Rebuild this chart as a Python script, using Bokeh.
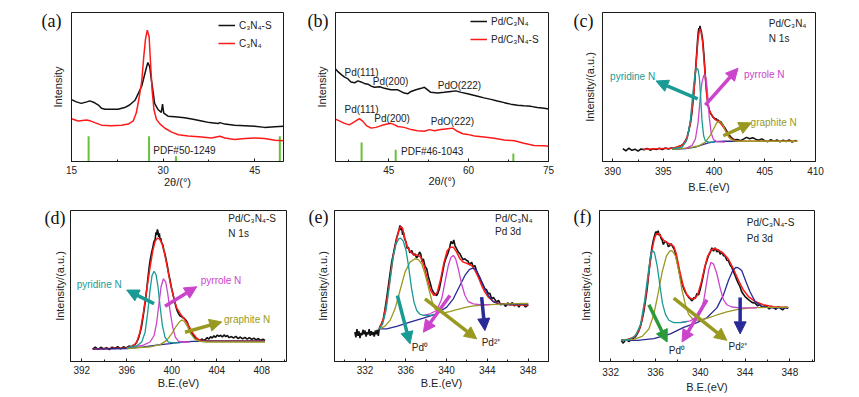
from bokeh.plotting import figure
from bokeh.layouts import column, row
from bokeh.models import (FixedTicker, Legend, LegendItem, LinearAxis, Arrow, NormalHead, Range1d)
from bokeh.core.properties import value
from bokeh.embed import file_html
from bokeh.resources import INLINE

# ---------------- data: panel (a) XRD ----------------
a_x_c3n4s = [15.0, 15.8, 16.6, 17.5, 18.0, 18.8, 19.4, 19.9, 20.5, 21.5, 22.6, 23.7, 24.5, 25.4, 25.9, 26.5, 26.9, 27.3, 27.5, 27.8,
             28.1, 28.4, 28.6, 29.2, 29.7, 29.9, 30.1, 30.8, 31.9, 33.5, 34.9, 36.3, 37.6, 39.0, 39.3, 40.1, 41.7, 43.4, 45.0, 46.6, 48.3, 49.7]
a_y_c3n4s = [41.5, 40.0, 39.0, 40.0, 40.7, 39.4, 37.9, 35.8, 35.1, 35.1, 35.1, 36.2, 37.9, 41.1, 45.4, 50.7, 57.2, 63.6, 66.4, 63.6,
             54.0, 45.4, 39.0, 34.7, 33.0, 38.5, 32.5, 30.4, 30.0, 29.3, 28.3, 27.2, 26.1, 25.5, 26.1, 25.1, 24.4, 24.0, 23.6, 22.9, 23.3, 23.6]
a_x_c3n4 = [15.0, 16.1, 17.5, 18.0, 18.8, 19.9, 21.5, 23.2, 24.3, 25.1, 25.6, 26.0, 26.5, 26.8, 27.1, 27.4, 27.7, 27.9, 28.2, 28.5,
            28.9, 29.5, 30.3, 31.4, 32.5, 34.1, 36.3, 37.9, 39.3, 40.1, 41.7, 43.4, 45.0, 46.6, 48.3, 49.7]
a_y_c3n4 = [28.7, 27.2, 27.8, 27.4, 26.1, 24.4, 24.0, 24.4, 25.1, 27.2, 32.5, 41.1, 54.0, 69.0, 81.8, 88.2, 83.9, 69.0, 47.5, 34.7,
            28.3, 25.1, 22.3, 19.7, 18.0, 17.1, 16.5, 15.8, 16.9, 15.8, 14.8, 15.4, 15.8, 15.4, 14.3, 13.9]
a_pdf_x = [17.8, 27.7, 32.1, 49.1]
a_pdf_h = [16.9, 16.9, 3.6, 16.9]
a_ticks = [15, 30, 45]

# ---------------- data: panel (b) XRD ----------------
b_x_pd = [35.0, 35.4, 36.1, 36.7, 37.3, 37.9, 38.6, 39.2, 39.8, 40.4, 41.1, 41.7, 42.3, 43.3, 44.2, 45.4, 46.7, 47.9, 48.6, 49.2,
          50.1, 51.1, 51.7, 52.3, 52.9, 54.2, 55.4, 56.7, 57.6, 58.6, 59.8, 61.7, 62.9, 64.2, 65.4, 66.7, 67.9, 69.2, 70.4, 71.7,
          72.9, 74.2, 75.0]
b_y_pd = [62.0, 60.5, 58.3, 56.6, 55.6, 53.4, 52.8, 54.1, 53.4, 52.4, 51.9, 50.6, 49.8, 50.2, 49.1, 48.1, 48.1, 45.9, 45.5, 47.0,
          48.1, 49.1, 49.8, 48.1, 46.4, 45.9, 46.4, 47.0, 47.4, 46.4, 45.5, 43.8, 42.7, 41.7, 40.6, 39.5, 38.5, 37.8, 37.4, 37.0,
          36.3, 35.7, 35.3]
b_x_pds = [35.0, 35.8, 36.7, 37.6, 38.6, 39.5, 40.1, 40.8, 41.7, 42.6, 43.6, 44.5, 45.4, 46.1, 46.7, 47.9, 49.2, 50.4, 51.7, 52.6,
           53.6, 54.8, 56.1, 57.0, 57.9, 58.9, 59.8, 61.1, 62.9, 64.8, 66.7, 68.6, 70.4, 72.3, 74.2, 75.0]
b_y_pds = [28.4, 27.1, 25.6, 24.6, 26.7, 28.8, 27.1, 24.1, 22.4, 22.9, 24.1, 25.0, 25.6, 24.6, 23.5, 22.9, 21.4, 20.7, 20.3, 21.4,
           20.7, 21.4, 22.0, 22.4, 20.3, 18.6, 18.2, 17.1, 16.5, 15.6, 14.5, 13.9, 12.2, 10.7, 10.5, 10.3]
b_pdf_x = [39.9, 46.3, 68.4]
b_pdf_h = [12.8, 7.9, 5.3]
b_ticks = [45, 60, 75]
b_peak_labels = ["Pd(111)", "Pd(200)", "PdO(222)", "Pd(111)", "Pd(200)", "PdO(222)"]
b_peak_x = [36.7, 42.0, 54.2, 36.7, 42.3, 52.9]
b_peak_y = [59.8, 53.8, 51.3, 34.8, 28.8, 26.7]

# ---------------- data: panel (c) N 1s, Pd/C3N4 ----------------
c_x_data = [391.0, 391.3, 391.6, 391.9, 392.2, 392.5, 392.8, 393.1, 393.4, 393.7, 394.0, 394.3, 394.6, 394.9, 395.2, 395.5, 395.8, 396.1, 396.4, 396.7,
            397.0, 397.2, 397.35, 397.5, 397.67, 397.8, 397.9, 398.0, 398.09, 398.17, 398.25, 398.32, 398.38, 398.44, 398.5, 398.56, 398.61, 398.67, 398.74, 398.8,
            398.87, 398.93, 399.0, 399.07, 399.13, 399.21, 399.29, 399.37, 399.45, 399.53, 399.61, 399.7, 399.77, 399.9, 400.0, 400.1, 400.2, 400.3, 400.42, 400.55,
            400.65, 400.74, 400.85, 400.95, 401.07, 401.2, 401.3, 401.39, 401.5, 401.6, 401.71, 401.85, 402.04, 402.3, 402.6, 402.9, 403.2, 403.5, 403.8, 404.1,
            404.4, 404.7, 405.0, 405.3, 405.6, 405.9, 406.2, 406.5, 406.8, 407.1, 407.4, 407.7, 408.0, 408.2]
c_y_data = [8.6, 7.2, 8.9, 7.5, 8.3, 7.0, 8.4, 7.9, 8.8, 7.6, 8.5, 8.0, 8.9, 8.1, 9.0, 8.4, 9.1, 8.8, 9.6, 10.5,
            11.8, 13.5, 16.5, 20.5, 26.0, 32.0, 39.0, 46.5, 54.0, 61.0, 69.0, 76.0, 82.0, 86.5, 89.5, 88.0, 91.0, 89.0, 87.5, 85.0,
            82.0, 77.5, 71.5, 64.5, 58.0, 51.5, 45.5, 40.5, 37.0, 34.5, 32.5, 31.8, 31.2, 29.6, 29.2, 28.4, 28.8, 27.4, 27.8, 26.5,
            27.0, 25.8, 24.8, 23.6, 22.5, 21.0, 19.6, 18.8, 17.6, 16.9, 16.0, 15.2, 14.6, 14.8, 13.9, 15.0, 16.2, 15.3, 16.0, 15.0,
            14.2, 15.2, 14.0, 13.3, 14.6, 13.5, 14.4, 13.2, 14.3, 13.4, 14.5, 13.1, 14.0, 13.6]
c_x_fit = [392.98, 395.89, 396.86, 397.35, 397.67, 398.0, 398.22, 398.42, 398.58, 398.71, 398.87, 399.07, 399.26, 399.45, 399.77, 400.1,
           400.42, 400.74, 401.07, 401.39, 401.71, 402.2, 403.01, 408.19]
c_y_fit = [8.2, 8.9, 10.8, 16.2, 25.9, 45.4, 64.8, 82.1, 89.0, 87.5, 79.9, 62.6, 45.4, 35.6, 31.3, 28.1,
           27.0, 24.8, 21.6, 17.7, 15.1, 13.8, 13.6, 13.6]
c_x_pyridine = [395.89, 396.86, 397.35, 397.67, 397.9, 398.09, 398.22, 398.32, 398.42, 398.55, 398.68, 398.8, 398.97, 399.13, 399.45, 400.1]
c_y_pyridine = [8.6, 9.7, 15.1, 28.1, 45.4, 57.2, 62.2, 62.6, 61.6, 56.2, 43.2, 28.1, 17.3, 14.0, 13.0, 13.0]
c_x_pyrrole = [397.19, 397.83, 398.16, 398.42, 398.64, 398.8, 398.97, 399.1, 399.23, 399.36, 399.52, 399.71, 399.94, 400.26, 401.07]
c_y_pyrrole = [8.6, 10.8, 15.1, 25.9, 43.2, 52.9, 57.5, 58.3, 55.1, 45.4, 30.2, 19.4, 14.7, 13.4, 13.0]
c_x_graphite = [395.89, 397.51, 398.48, 399.13, 399.61, 399.94, 400.26, 400.52, 400.81, 401.13, 401.46, 401.88, 402.36, 403.01, 408.19]
c_y_graphite = [8.2, 9.1, 10.4, 13.0, 17.3, 21.6, 25.9, 27.0, 25.5, 20.5, 16.2, 14.0, 13.6, 13.6, 13.6]
c_x_bg = [395.89, 397.19, 398.16, 398.8, 399.45, 400.1, 401.07, 402.36]
c_y_bg = [8.2, 8.6, 9.7, 11.2, 12.5, 13.4, 13.6, 13.6]
c_ticks = [390, 395, 400, 405, 410]

# ---------------- data: panel (d) N 1s, Pd/C3N4-S ----------------
d_x_data = [392.97, 393.2, 393.45, 393.7, 393.95, 394.2, 394.45, 394.7, 394.95, 395.2, 395.45, 395.7, 395.95, 396.2, 396.44, 396.6, 396.74, 396.9, 397.03, 397.18,
            397.33, 397.48, 397.63, 397.75, 397.86, 397.97, 398.07, 398.19, 398.31, 398.42, 398.52, 398.6, 398.66, 398.72, 398.78, 398.84, 398.9, 398.96, 399.02, 399.1,
            399.2, 399.3, 399.4, 399.5, 399.61, 399.73, 399.85, 399.97, 400.09, 400.2, 400.29, 400.4, 400.5, 400.62, 400.74, 400.86, 400.98, 401.08, 401.18, 401.28,
            401.39, 401.5, 401.63, 401.78, 401.92, 402.07, 402.22, 402.37, 402.52, 402.7, 402.85, 403.0, 403.15, 403.3, 403.45, 403.6, 403.75, 403.9, 404.05, 404.2,
            404.35, 404.5, 404.65, 404.8, 404.95, 405.1, 405.3, 405.5, 405.7, 405.9, 406.1, 406.3, 406.5, 406.7, 406.9, 407.1, 407.3, 407.5, 407.7, 407.9,
            408.1, 408.29]
d_y_data = [8.2, 9.6, 8.0, 9.4, 8.3, 9.2, 7.9, 9.5, 8.6, 9.8, 8.4, 9.7, 9.0, 10.2, 9.7, 10.8, 11.2, 13.0, 15.1, 19.0,
            23.7, 31.0, 38.7, 46.0, 53.8, 61.0, 66.7, 71.5, 75.3, 79.5, 80.6, 85.5, 83.9, 87.5, 86.0, 82.5, 84.9, 80.5, 81.7, 78.5,
            77.4, 73.5, 71.0, 67.5, 63.4, 58.0, 53.8, 49.0, 45.2, 41.5, 38.7, 35.5, 33.3, 31.5, 30.1, 29.8, 29.0, 28.8, 28.0, 27.2,
            25.8, 23.5, 21.5, 19.0, 17.2, 16.0, 15.1, 14.2, 14.0, 14.9, 13.9, 14.6, 15.8, 14.8, 16.4, 15.5, 17.0, 16.0, 17.5, 16.6,
            17.4, 16.2, 17.6, 16.5, 17.2, 15.8, 16.5, 15.6, 16.6, 15.2, 16.2, 15.0, 16.0, 14.8, 15.8, 14.6, 15.5, 14.3, 15.2, 14.0,
            14.8, 13.9]
d_x_fit = [392.97, 396.0, 396.59, 396.89, 397.18, 397.48, 397.77, 398.07, 398.31, 398.52, 398.72, 398.9, 399.11, 399.32, 399.55, 399.85,
           400.15, 400.44, 400.74, 401.03, 401.33, 401.63, 401.92, 402.22, 402.52, 403.11, 408.29]
d_y_fit = [8.2, 9.0, 10.3, 12.9, 19.4, 32.3, 47.3, 62.4, 73.1, 79.6, 81.7, 81.3, 78.5, 73.1, 64.5, 52.7,
           43.0, 35.5, 31.8, 29.0, 25.8, 21.9, 18.3, 15.5, 14.0, 13.5, 13.5]
d_x_pyridine = [396.0, 396.89, 397.33, 397.63, 397.86, 398.07, 398.25, 398.43, 398.6, 398.78, 398.96, 399.17, 399.4, 399.7, 400.15, 400.74]
d_y_pyridine = [9.0, 10.3, 12.9, 19.4, 32.3, 47.3, 57.0, 59.8, 57.6, 49.5, 36.6, 23.7, 16.1, 12.9, 12.3, 12.3]
d_x_pyrrole = [396.59, 397.48, 398.07, 398.43, 398.66, 398.87, 399.05, 399.26, 399.46, 399.64, 399.85, 400.09, 400.32, 400.59, 401.03, 401.63]
d_y_pyrrole = [9.7, 10.8, 12.9, 17.2, 25.8, 38.7, 49.5, 54.8, 52.7, 45.2, 33.3, 22.6, 16.1, 13.5, 12.9, 12.9]
d_x_graphite = [396.0, 398.07, 398.96, 399.55, 399.99, 400.38, 400.68, 400.89, 401.12, 401.39, 401.69, 402.07, 402.52, 403.11, 408.29]
d_y_graphite = [8.6, 9.7, 11.2, 14.0, 18.3, 23.2, 26.2, 27.5, 26.5, 23.2, 18.3, 14.6, 13.3, 12.9, 12.9]
d_x_bg = [392.97, 396.0, 397.48, 398.66, 399.85, 400.74, 401.92, 403.11, 408.29]
d_y_bg = [8.2, 8.6, 9.7, 10.8, 11.8, 12.9, 13.3, 13.5, 13.5]
d_ticks = [392, 396, 400, 404, 408]

# ---------------- data: panel (e) Pd 3d, Pd/C3N4 ----------------
e_x_data = [331.0, 331.1, 331.2, 331.3, 331.4, 331.5, 331.6, 331.7, 331.8, 331.9, 332.0, 332.1, 332.2, 332.3, 332.4, 332.5, 332.6, 332.7, 332.8, 332.9,
            333.0, 333.1, 333.2, 333.3, 333.4, 333.5, 333.63, 333.8, 333.96, 334.12, 334.29, 334.45, 334.61, 334.78, 334.94, 335.1, 335.27, 335.43, 335.52, 335.59,
            335.68, 335.76, 335.88, 336.02, 336.12, 336.25, 336.4, 336.58, 336.75, 336.9, 337.05, 337.23, 337.35, 337.46, 337.6, 337.72, 337.88, 338.05, 338.2, 338.37,
            338.55, 338.7, 338.87, 339.03, 339.16, 339.29, 339.45, 339.61, 339.78, 339.94, 340.1, 340.27, 340.43, 340.59, 340.7, 340.82, 341.0, 341.15, 341.3, 341.47,
            341.62, 341.8, 341.97, 342.1, 342.25, 342.46, 342.62, 342.78, 342.95, 343.11, 343.28, 343.44, 343.6, 343.76, 343.92, 344.09, 344.25, 344.41, 344.6, 344.9,
            345.1, 345.3, 345.56, 345.8, 346.0, 346.22, 346.45, 346.65, 346.87, 347.1, 347.3, 347.52, 347.75, 348.01]
e_y_data = [19.5, 16.0, 21.5, 17.0, 20.0, 15.5, 19.0, 17.5, 21.0, 18.0, 20.5, 16.5, 19.5, 18.0, 21.5, 17.0, 20.0, 17.5, 19.5, 16.5,
            20.5, 18.0, 21.0, 17.0, 22.0, 23.5, 24.9, 28.5, 34.9, 42.0, 50.3, 58.0, 65.8, 71.5, 76.8, 82.0, 85.7, 90.1, 87.0, 89.0,
            84.0, 85.7, 81.0, 79.0, 75.0, 75.7, 72.0, 73.5, 70.5, 71.3, 68.5, 70.2, 72.5, 71.3, 66.0, 68.0, 63.0, 61.4, 56.5, 52.5,
            48.0, 45.9, 44.5, 43.7, 45.5, 48.1, 53.5, 59.2, 65.0, 68.5, 71.0, 74.6, 79.5, 77.9, 80.5, 76.8, 74.5, 72.4, 71.5, 69.1,
            67.5, 68.0, 66.9, 66.5, 64.0, 65.8, 62.5, 63.6, 60.0, 57.0, 54.5, 52.5, 50.5, 48.1, 47.5, 44.8, 45.2, 41.5, 42.5, 39.3,
            40.5, 37.5, 38.2, 36.5, 38.8, 37.7, 39.0, 36.8, 38.2, 36.0, 38.5, 37.7, 36.2, 37.5]
e_x_fit = [333.41, 333.80, 334.12, 334.45, 334.78, 335.10, 335.37, 335.53, 335.69, 335.92, 336.15, 336.48, 336.80, 337.13, 337.46, 337.78,
           338.11, 338.44, 338.76, 339.09, 339.42, 339.75, 340.07, 340.40, 340.66, 340.99, 341.31, 341.64, 341.97, 342.46, 342.78, 343.11,
           343.44, 343.76, 344.09, 344.58, 345.24, 346.22, 348.01]
e_y_fit = [22.1, 28.3, 39.3, 54.7, 70.2, 81.2, 87.9, 89.4, 87.9, 81.2, 75.7, 72.4, 70.6, 70.6, 69.1, 63.6,
           54.7, 47.0, 43.7, 45.9, 54.7, 65.8, 73.5, 75.7, 75.7, 72.4, 68.0, 65.8, 65.1, 63.6, 60.3, 55.8,
           50.3, 45.9, 42.6, 39.7, 38.2, 37.5, 37.5]
e_x_pd0_52 = [333.41, 333.73, 334.06, 334.39, 334.71, 335.04, 335.30, 335.50, 335.76, 336.02, 336.28, 336.54, 336.80, 337.07, 337.39, 337.72, 338.37, 338.70]
e_y_pd0_52 = [21.6, 24.9, 33.8, 50.3, 68.0, 77.9, 81.2, 81.7, 79.5, 73.5, 62.5, 49.2, 39.3, 33.8, 31.3, 30.5, 30.5, 30.9]
e_x_pd2_52 = [333.41, 333.96, 334.45, 334.94, 335.43, 335.92, 336.41, 336.90, 337.23, 337.56, 337.88, 338.21, 338.54, 338.86, 339.19, 339.68,
              340.33, 340.99, 341.97, 342.95, 344.25, 345.89, 348.01]
e_y_pd2_52 = [21.6, 23.4, 27.2, 34.9, 47.0, 59.2, 65.8, 68.0, 67.5, 64.7, 58.1, 49.2, 40.4, 34.9, 32.7, 32.2,
              33.1, 34.4, 36.0, 37.1, 37.7, 38.2, 38.4]
e_x_pd0_32 = [337.72, 338.37, 339.03, 339.52, 339.84, 340.17, 340.43, 340.66, 340.89, 341.15, 341.47, 341.80, 342.13, 342.62, 343.27, 344.25]
e_y_pd0_32 = [30.5, 31.6, 33.8, 41.5, 52.5, 63.6, 69.1, 70.2, 68.0, 61.4, 51.4, 43.7, 39.7, 38.2, 37.7, 37.7]
e_x_pd2_32 = [333.41, 334.12, 335.10, 336.41, 337.72, 339.03, 340.01, 340.66, 341.31, 341.80, 342.23, 342.56, 342.88, 343.27, 343.67, 344.09,
              344.58, 345.07, 345.89, 348.01]
e_y_pd2_32 = [21.6, 21.6, 23.2, 26.0, 28.7, 31.6, 36.0, 41.5, 50.3, 57.0, 60.9, 61.8, 60.9, 55.8, 49.2, 43.7,
              39.7, 38.2, 37.7, 37.9]
pd_ticks = [332, 336, 340, 344, 348]

# ---------------- data: panel (f) Pd 3d, Pd/C3N4-S ----------------
f_x_data = [332.95, 333.1, 333.19, 333.35, 333.48, 333.65, 333.78, 333.95, 334.07, 334.22, 334.37, 334.52, 334.67, 334.81, 334.96, 335.11, 335.26, 335.38, 335.5, 335.6,
            335.7, 335.8, 335.91, 336.0, 336.09, 336.17, 336.24, 336.32, 336.39, 336.5, 336.59, 336.7, 336.8, 336.92, 337.04, 337.15, 337.27, 337.38, 337.48, 337.58,
            337.69, 337.8, 337.93, 338.07, 338.22, 338.37, 338.52, 338.67, 338.81, 338.96, 339.11, 339.23, 339.35, 339.45, 339.56, 339.7, 339.85, 340.0, 340.15, 340.3,
            340.44, 340.6, 340.74, 340.9, 341.04, 341.18, 341.33, 341.48, 341.63, 341.78, 341.93, 342.08, 342.22, 342.37, 342.52, 342.66, 342.81, 342.96, 343.11, 343.26,
            343.41, 343.55, 343.7, 343.85, 344.0, 344.22, 344.44, 344.66, 344.89, 345.1, 345.33, 345.55, 345.75, 345.93, 346.15, 346.35, 346.52, 346.75, 346.95, 347.11,
            347.35, 347.6, 347.85]
f_y_data = [14.0, 12.2, 12.9, 14.6, 14.0, 13.2, 14.4, 14.9, 15.7, 16.5, 18.3, 20.5, 23.7, 28.0, 33.3, 40.5, 48.4, 57.0, 65.6, 71.0,
            76.3, 80.0, 83.2, 85.5, 86.0, 84.0, 86.7, 83.5, 84.5, 81.5, 80.6, 77.5, 78.9, 79.5, 78.5, 76.0, 76.8, 78.0, 76.8, 75.5,
            74.2, 71.0, 66.7, 61.5, 55.9, 51.5, 48.4, 45.8, 44.1, 42.5, 41.5, 40.2, 40.9, 42.5, 41.9, 45.0, 44.1, 48.0, 52.7, 58.0,
            63.4, 67.0, 70.3, 72.5, 75.3, 73.0, 75.3, 72.5, 73.8, 71.0, 72.5, 70.0, 69.9, 67.0, 66.7, 64.0, 62.4, 59.5, 57.0, 54.0,
            51.6, 49.5, 46.2, 44.5, 43.0, 41.5, 40.2, 39.0, 38.7, 37.0, 37.6, 35.8, 37.0, 36.6, 34.8, 36.5, 35.9, 34.6, 36.4, 35.5,
            34.2, 36.0, 35.1]
f_x_fit = [332.95, 333.48, 334.07, 334.52, 334.81, 335.11, 335.41, 335.70, 335.91, 336.09, 336.24, 336.44, 336.74, 337.10, 337.39, 337.63,
           337.87, 338.16, 338.46, 338.81, 339.17, 339.47, 339.76, 340.06, 340.36, 340.65, 340.95, 341.24, 341.63, 342.07, 342.52, 342.96,
           343.41, 343.85, 344.30, 344.89, 345.63, 346.52, 347.41, 347.85]
f_y_fit = [14.4, 14.6, 16.1, 20.4, 28.0, 41.9, 59.1, 74.2, 81.7, 84.5, 84.9, 83.2, 80.2, 78.5, 77.4, 76.3,
           71.0, 60.2, 50.5, 44.1, 41.5, 41.5, 44.1, 51.6, 61.3, 69.5, 73.8, 74.8, 73.8, 71.6, 67.7, 61.3,
           53.8, 47.3, 43.0, 39.8, 37.6, 36.3, 35.9, 35.9]
f_x_pd0_52 = [332.95, 333.63, 334.22, 334.67, 335.02, 335.32, 335.56, 335.70, 335.91, 336.15, 336.39, 336.62, 336.89, 337.19, 337.63, 338.22, 338.81]
f_y_pd0_52 = [14.0, 14.4, 17.2, 24.7, 39.8, 57.0, 69.9, 73.8, 72.0, 63.4, 50.5, 38.7, 31.2, 27.3, 25.8, 25.8, 26.5]
f_x_pd2_52 = [332.95, 334.07, 334.81, 335.41, 335.85, 336.21, 336.59, 336.98, 337.27, 337.48, 337.78, 338.07, 338.37, 338.67, 338.96, 339.35,
              339.85, 340.59, 341.48, 342.37, 343.26, 344.44, 346.22, 347.85]
f_y_pd2_52 = [14.0, 14.6, 16.6, 21.5, 31.2, 44.1, 59.1, 69.9, 73.1, 73.5, 69.9, 60.2, 47.3, 37.6, 31.2, 28.0,
              27.3, 28.6, 30.8, 32.9, 34.4, 35.5, 35.9, 35.9]
f_x_pd0_32 = [338.22, 339.11, 339.85, 340.30, 340.53, 340.74, 340.95, 341.19, 341.48, 341.78, 342.07, 342.37, 342.81, 343.56, 345.04]
f_y_pd0_32 = [25.8, 26.9, 30.1, 39.8, 50.5, 60.2, 65.6, 64.5, 58.1, 48.4, 40.9, 37.6, 36.1, 35.5, 35.5]
f_x_pd2_32 = [332.95, 334.37, 335.85, 337.33, 338.52, 339.70, 340.59, 341.48, 342.07, 342.52, 342.90, 343.20, 343.41, 343.70, 344.09, 344.44,
              344.89, 345.48, 346.22, 347.85]
f_y_pd2_32 = [14.0, 14.0, 15.1, 18.3, 22.6, 25.8, 29.0, 35.5, 44.1, 53.8, 60.2, 62.4, 62.0, 60.2, 52.7, 46.2,
              39.8, 36.6, 35.5, 35.5]

# ---------------- styles ----------------
FONT = "Liberation Sans"
SERIF = "Liberation Serif"
BLACK = "#111111"
RED = "#ff1a1a"
TEAL = "#1a9a94"
MAGENTA = "#cc44cc"
OLIVE = "#999922"
NAVY = "#2a2a96"
GREEN_ARROW = "#2a9a3a"
STICK = "#66c23a"
TXT = "#222222"


def panel(xr, major, minor, xlabel, ylabel, W, H, L, R, T, B, ystand, xstand, tstand):
    p = figure(width=W, height=H, x_range=Range1d(*xr), y_range=Range1d(0, 100),
               output_backend="svg", toolbar_location=None,
               min_border_left=L, min_border_right=R, min_border_top=T, min_border_bottom=B)
    p.grid.visible = False
    p.background_fill_color = "white"
    p.border_fill_color = "white"
    p.outline_line_color = "#1a1a1a"
    p.outline_line_width = 1
    p.outline_line_alpha = 1
    xa = p.xaxis[0]
    xa.ticker = FixedTicker(ticks=major, minor_ticks=minor)
    xa.axis_line_color = "#1a1a1a"
    xa.major_tick_line_color = "#1a1a1a"
    xa.minor_tick_line_color = "#1a1a1a"
    xa.major_tick_in = 3
    xa.major_tick_out = 0
    xa.minor_tick_in = 2
    xa.minor_tick_out = 0
    xa.major_label_text_font = FONT
    xa.major_label_text_font_size = "10px"
    xa.major_label_text_color = TXT
    xa.major_label_standoff = tstand
    xa.axis_label = xlabel
    xa.axis_label_text_font = FONT
    xa.axis_label_text_font_size = "11px"
    xa.axis_label_text_font_style = "normal"
    xa.axis_label_text_color = TXT
    xa.axis_label_standoff = xstand
    ya = p.yaxis[0]
    ya.ticker = FixedTicker(ticks=[])
    ya.axis_line_color = "#1a1a1a"
    ya.major_tick_out = 0
    ya.minor_tick_out = 0
    ya.axis_label = ylabel
    ya.axis_label_text_font = FONT
    ya.axis_label_text_font_size = "11px"
    ya.axis_label_text_font_style = "normal"
    ya.axis_label_text_color = TXT
    ya.axis_label_standoff = ystand
    return p


def tag(p, text, yv, standoff):
    # panel letter, drawn as the single tick label of an extra, line-less left axis
    ax = LinearAxis(ticker=FixedTicker(ticks=[yv]), major_label_overrides={yv: text},
                    axis_line_color=None, major_tick_line_color=None, minor_tick_line_color=None,
                    major_tick_in=0, major_tick_out=0, minor_tick_in=0, minor_tick_out=0,
                    major_label_standoff=standoff, major_label_text_font=SERIF,
                    major_label_text_font_size="18px", major_label_text_color="#111111")
    p.add_layout(ax, "left")


def note(p, xs, ys, texts, color=TXT, size="10px"):
    p.text(x=xs, y=ys, text=texts, text_font=value(FONT), text_font_size=size,
           text_color=color, text_baseline="middle", text_align="left")


def arrow(p, x0, y0, x1, y1, color):
    p.add_layout(Arrow(end=NormalHead(size=12, fill_color=color, line_color=color, line_width=1),
                       x_start=x0, y_start=y0, x_end=x1, y_end=y1,
                       line_color=color, line_width=3.5))


def legend(p, items, vx, vy):
    lg = Legend(items=items, location=(vx, vy), border_line_color=None,
                background_fill_alpha=0, label_text_font=FONT, label_text_font_size="10px",
                label_text_color=TXT, glyph_width=17, glyph_height=12, label_height=12,
                label_standoff=4, spacing=6, padding=0, margin=0)
    p.add_layout(lg)


# ---------- (a) ----------
pa = panel((15, 49.7), a_ticks, [22.5, 37.5], "2θ/(°)", "Intensity", 289, 195, 71, 6, 12, 27, 8, -1, 4)
pa.segment(x0=a_pdf_x, y0=[0] * len(a_pdf_x), x1=a_pdf_x, y1=a_pdf_h, line_color=STICK, line_width=2)
ra1 = pa.line(a_x_c3n4s, a_y_c3n4s, line_color=BLACK, line_width=1.5)
ra2 = pa.line(a_x_c3n4, a_y_c3n4, line_color=RED, line_width=1.5)
note(pa, [28.4], [7.7], ["PDF#50-1249"])
legend(pa, [LegendItem(label="C₃N₄-S", renderers=[ra1]), LegendItem(label="C₃N₄", renderers=[ra2])], 147, 112)
tag(pa, "(a)", 94, -13)

# ---------- (b) ----------
pb = panel((35, 75), b_ticks, [37.5, 52.5, 67.5], "2θ/(°)", "Intensity", 281, 195, 46, 22, 12, 27, 8, -2, 4)
pb.segment(x0=b_pdf_x, y0=[0] * len(b_pdf_x), x1=b_pdf_x, y1=b_pdf_h, line_color=STICK, line_width=2)
rb1 = pb.line(b_x_pd, b_y_pd, line_color=BLACK, line_width=1.5)
rb2 = pb.line(b_x_pds, b_y_pds, line_color=RED, line_width=1.5)
note(pb, b_peak_x, b_peak_y, b_peak_labels)
note(pb, [47.3], [6.4], ["PDF#46-1043"])
legend(pb, [LegendItem(label="Pd/C₃N₄", renderers=[rb1]), LegendItem(label="Pd/C₃N₄-S", renderers=[rb2])], 135, 116)
tag(pb, "(b)", 94, -16)

# ---------- (c) ----------
pc = panel((389.0, 410.0), c_ticks, [392.5, 397.5, 402.5, 407.5], "B.E.(eV)", "Intensity/(a.u.)", 287, 195, 29, 42, 12, 28, 7, 3, 5)
pc.line(c_x_data, c_y_data, line_color=BLACK, line_width=1.6)
pc.line(c_x_fit, c_y_fit, line_color=RED, line_width=1.5)
pc.line(c_x_bg, c_y_bg, line_color=NAVY, line_width=1.3)
pc.line(c_x_graphite, c_y_graphite, line_color=OLIVE, line_width=1.3)
pc.line(c_x_pyrrole, c_y_pyrrole, line_color=MAGENTA, line_width=1.3)
pc.line(c_x_pyridine, c_y_pyridine, line_color=TEAL, line_width=1.3)
arrow(pc, 398.38, 42.1, 394.28, 54.0, TEAL)
arrow(pc, 399.13, 37.8, 402.36, 62.6, MAGENTA)
arrow(pc, 400.91, 17.3, 403.66, 25.9, OLIVE)
note(pc, [389.75], [57.2], ["pyridine N"], TEAL)
note(pc, [402.95], [58.7], ["pyrrole   N"], MAGENTA)
note(pc, [403.6], [26.3], ["graphite N"], OLIVE)
note(pc, [405.4, 405.4], [92.9, 82.5], ["Pd/C₃N₄", "N 1s"])
tag(pc, "(c)", 94, -13)

# ---------- (d) ----------
pd_ = panel((391.0, 410.2), d_ticks, [394, 398, 402, 406, 410], "B.E.(eV)", "Intensity/(a.u.)", 289, 200, 70, 3, 12, 33, 5, 0, 4)
pd_.line(d_x_data, d_y_data, line_color=BLACK, line_width=1.6)
pd_.line(d_x_fit, d_y_fit, line_color=RED, line_width=1.5)
pd_.line(d_x_bg, d_y_bg, line_color=NAVY, line_width=1.3)
pd_.line(d_x_graphite, d_y_graphite, line_color=OLIVE, line_width=1.3)
pd_.line(d_x_pyrrole, d_y_pyrrole, line_color=MAGENTA, line_width=1.3)
pd_.line(d_x_pyridine, d_y_pyridine, line_color=TEAL, line_width=1.3)
arrow(pd_, 398.43, 38.3, 396.0, 47.3, TEAL)
arrow(pd_, 399.40, 36.6, 402.22, 49.5, MAGENTA)
arrow(pd_, 401.18, 19.4, 404.44, 26.2, OLIVE)
note(pd_, [391.55], [51.2], ["pyridine N"], TEAL)
note(pd_, [402.58], [53.8], ["pyrrole N"], MAGENTA)
note(pd_, [404.65], [27.5], ["graphite N"], OLIVE)
note(pd_, [405.03, 405.03], [94.6, 84.5], ["Pd/C₃N₄-S", "N 1s"])
tag(pd_, "(d)", 95, -15)

# ---------- (e) ----------
pe = panel((329.0, 350.0), pd_ticks, [330, 334, 338, 342, 346, 350], "B.E.(eV)", "Intensity/(a.u.)", 281, 200, 45, 22, 15, 34, 6, 0, 4)
pe.line(e_x_data, e_y_data, line_color=BLACK, line_width=1.6)
pe.line(e_x_fit, e_y_fit, line_color=RED, line_width=1.5)
pe.line(e_x_pd2_32, e_y_pd2_32, line_color=NAVY, line_width=1.3)
pe.line(e_x_pd2_52, e_y_pd2_52, line_color=OLIVE, line_width=1.3)
pe.line(e_x_pd0_32, e_y_pd0_32, line_color=MAGENTA, line_width=1.3)
pe.line(e_x_pd0_52, e_y_pd0_52, line_color=TEAL, line_width=1.3)
arrow(pe, 335.17, 43.7, 336.41, 11.7, TEAL)
arrow(pe, 340.33, 43.7, 337.72, 19.4, MAGENTA)
arrow(pe, 337.88, 41.5, 342.95, 15.0, OLIVE)
arrow(pe, 343.44, 42.6, 343.76, 20.5, NAVY)
note(pe, [336.58, 343.44], [9.5, 12.8], ["Pd⁰", "Pd²⁺"])
note(pe, [344.75, 344.75], [94.5, 86.3], ["Pd/C₃N₄", "Pd 3d"])
tag(pe, "(e)", 96, -15)

# ---------- (f) ----------
pf = panel((331.0, 350.2), pd_ticks, [334, 338, 342, 346, 350], "B.E.(eV)", "Intensity/(a.u.)", 287, 200, 28, 43, 13, 32, 8, 2, 6)
pf.line(f_x_data, f_y_data, line_color=BLACK, line_width=1.6)
pf.line(f_x_fit, f_y_fit, line_color=RED, line_width=1.5)
pf.line(f_x_pd2_32, f_y_pd2_32, line_color=NAVY, line_width=1.3)
pf.line(f_x_pd2_52, f_y_pd2_52, line_color=OLIVE, line_width=1.3)
pf.line(f_x_pd0_32, f_y_pd0_32, line_color=MAGENTA, line_width=1.3)
pf.line(f_x_pd0_52, f_y_pd0_52, line_color=TEAL, line_width=1.3)
arrow(pf, 335.41, 37.6, 337.04, 12.9, GREEN_ARROW)
arrow(pf, 340.59, 40.9, 338.37, 12.9, MAGENTA)
arrow(pf, 337.63, 41.9, 342.37, 14.0, OLIVE)
arrow(pf, 343.56, 42.4, 343.56, 18.3, NAVY)
note(pf, [337.19, 342.52], [7.5, 9.7], ["Pd⁰", "Pd²⁺"])
note(pf, [344.15, 344.15], [91.8, 81.7], ["Pd/C₃N₄-S", "Pd 3d"])
tag(pf, "(f)", 96, -15)

layout = column(row(pa, pb, pc), row(pd_, pe, pf))
open("out.html", "w").write(file_html(layout, INLINE))
